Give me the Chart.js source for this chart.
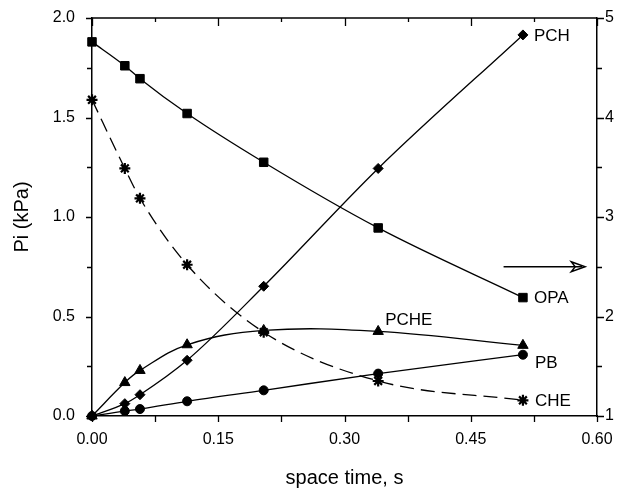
<!DOCTYPE html>
<html>
<head>
<meta charset="utf-8">
<script src="https://cdn.jsdelivr.net/npm/chart.js@4/dist/chart.umd.min.js"></script>
<style>
  html, body { margin: 0; padding: 0; background: #fff; }
  #wrap { width: 624px; height: 493px; }
</style>
</head>
<body>
<div id="wrap"><canvas id="c" width="624" height="493"></canvas></div>
<script>
// Space time (s) at which each composition was measured
const spaceTime = [0, 0.039, 0.057, 0.113, 0.204, 0.340, 0.512];

// Partial pressures, kPa (left axis)
const pch  = [0, 0.062, 0.107, 0.280, 0.652, 1.244, 1.915];
const pche = [0, 0.168, 0.229, 0.358, 0.430, 0.425, 0.355];
const pb   = [0, 0.025, 0.035, 0.074, 0.129, 0.213, 0.308];
const che  = [1.589, 1.244, 1.094, 0.760, 0.421, 0.176, 0.079];

// OPA, read on the right axis
const opa  = [4.76, 4.52, 4.39, 4.04, 3.55, 2.89, 2.19];

// Tick labels
const xTicks = [0, 0.15, 0.30, 0.45, 0.60];
const leftTicks = [0, 0.5, 1.0, 1.5, 2.0];
const rightTicks = [1, 2, 3, 4, 5];

const FONT = '"Liberation Sans", Arial, Helvetica, sans-serif';
const INK = '#000';

function pts(ys) { return spaceTime.map((x, i) => ({ x: x, y: ys[i] })); }

function series(label, ys, style, radius, axis, extra) {
  return Object.assign({
    label: label,
    data: pts(ys),
    yAxisID: axis,
    borderColor: INK,
    backgroundColor: INK,
    borderWidth: 1.3,
    pointStyle: style,
    pointRadius: radius,
    pointHoverRadius: radius,
    pointBackgroundColor: INK,
    pointBorderColor: INK,
    pointBorderWidth: 1,
    cubicInterpolationMode: 'monotone',
    fill: false,
    clip: false
  }, extra || {});
}

// Frame, tick marks, curve labels and the axis-pointer arrow
const decorations = {
  id: 'decorations',
  afterDraw(chart) {
    const ctx = chart.ctx;
    const a = chart.chartArea;
    const xs = chart.scales.x, yl = chart.scales.y, yr = chart.scales.y2;
    ctx.save();
    ctx.strokeStyle = INK;
    ctx.lineWidth = 1.5;
    // top edge of the frame
    ctx.beginPath();
    ctx.moveTo(a.left, a.top);
    ctx.lineTo(a.right, a.top);
    ctx.stroke();

    ctx.lineWidth = 1.3;
    ctx.beginPath();
    // x ticks: outward at bottom, inward at top
    for (let k = 0; k <= 8; k++) {
      const v = k * 0.075;
      const px = Math.round(xs.getPixelForValue(v)) + 0.5;
      ctx.moveTo(px, a.bottom);
      ctx.lineTo(px, a.bottom + 6);
      const len = (k % 2 === 0) ? 8 : 4;
      ctx.moveTo(px, a.top);
      ctx.lineTo(px, a.top + len);
    }
    // left ticks
    for (let k = 0; k <= 8; k++) {
      const v = k * 0.25;
      const py = Math.round(yl.getPixelForValue(v)) + 0.5;
      ctx.moveTo(a.left, py);
      ctx.lineTo(a.left - ((k % 2 === 0) ? 6 : 5), py);
    }
    // right ticks
    for (let k = 0; k <= 8; k++) {
      const v = 1 + k * 0.5;
      const py = Math.round(yr.getPixelForValue(v)) + 0.5;
      ctx.moveTo(a.right, py);
      ctx.lineTo(a.right + ((k % 2 === 0) ? 7 : 5), py);
    }
    ctx.stroke();

    // curve labels next to the marks they name
    ctx.fillStyle = INK;
    ctx.font = '17px ' + FONT;
    ctx.textBaseline = 'middle';
    ctx.textAlign = 'left';
    const last = spaceTime.length - 1;
    const at = (i, idx) => chart.getDatasetMeta(i).data[idx];
    let p;
    p = at(0, last); ctx.fillText('OPA', p.x + 11, p.y + 1);
    p = at(1, last); ctx.fillText('PCH', p.x + 11, p.y + 1);
    p = at(2, 5);    ctx.fillText('PCHE', p.x + 7, p.y - 11);
    p = at(3, last); ctx.fillText('PB', p.x + 12, p.y + 9);
    p = at(4, last); ctx.fillText('CHE', p.x + 12, p.y + 1);

    // arrow pointing OPA to the right-hand axis
    const ay = yr.getPixelForValue(2.5);
    const x0 = xs.getPixelForValue(0.489), x1 = xs.getPixelForValue(0.586);
    ctx.lineWidth = 1.4;
    ctx.beginPath();
    ctx.moveTo(x0, ay);
    ctx.lineTo(x1 - 3, ay);
    ctx.stroke();
    ctx.beginPath();
    ctx.moveTo(x1 - 14, ay - 5);
    ctx.lineTo(x1, ay);
    ctx.lineTo(x1 - 14, ay + 5);
    ctx.lineTo(x1 - 10, ay);
    ctx.closePath();
    ctx.stroke();
    ctx.restore();
  }
};

const fixedTicks = (list) => (scale) => {
  scale.ticks = list.map(v => ({ value: v }));
};

// keep the plot box fixed: no extra room reserved for label overhang
const fitV = (w) => (s) => { s.width = w; s.paddingTop = 0; s.paddingBottom = 0; };
const fitH = (h) => (s) => { s.height = h; s.paddingLeft = 0; s.paddingRight = 0; };

new Chart(document.getElementById('c'), {
  type: 'line',
  data: {
    datasets: [
      series('OPA', opa, 'rect', 6, 'y2'),
      series('PCH', pch, 'rectRot', 5, 'y'),
      series('PCHE', pche, 'triangle', 6, 'y', { cubicInterpolationMode: 'default', tension: 0.38 }),
      series('PB', pb, 'circle', 4.5, 'y'),
      series('CHE', che, 'star', 5.5, 'y', { borderDash: [14, 7], pointBorderWidth: 2.2 })
    ]
  },
  options: {
    responsive: false,
    animation: false,
    devicePixelRatio: 1,
    layout: { padding: { top: 18, left: 0, right: 0, bottom: 0 } },
    plugins: {
      legend: { display: false },
      tooltip: { enabled: false },
      title: { display: false }
    },
    scales: {
      x: {
        type: 'linear',
        position: 'bottom',
        min: 0, max: 0.6,
        afterBuildTicks: fixedTicks(xTicks),
        afterFit: fitH(77),
        grid: { display: true, drawOnChartArea: false, drawTicks: false },
        border: { display: true, color: INK, width: 1.5 },
        ticks: {
          color: INK, padding: 14, maxRotation: 0, autoSkip: false,
          font: { family: FONT, size: 16 },
          callback: (v) => Number(v).toFixed(2)
        },
        title: {
          display: true, text: 'space time, s', color: INK,
          font: { family: FONT, size: 20 },
          padding: { top: 0, bottom: 3 }
        }
      },
      y: {
        type: 'linear',
        position: 'left',
        min: 0, max: 2,
        afterBuildTicks: fixedTicks(leftTicks),
        afterFit: fitV(92),
        grid: { display: true, drawOnChartArea: false, drawTicks: false },
        border: { display: true, color: INK, width: 1.5 },
        ticks: {
          color: INK, padding: 17, autoSkip: false,
          font: { family: FONT, size: 16 },
          callback: (v) => Number(v).toFixed(1)
        },
        title: {
          display: true, text: 'Pi (kPa)', color: INK,
          font: { family: FONT, size: 20 },
          padding: { top: 10, bottom: 0 }
        }
      },
      y2: {
        type: 'linear',
        position: 'right',
        min: 1, max: 5,
        afterBuildTicks: fixedTicks(rightTicks),
        afterFit: fitV(27),
        grid: { display: true, drawOnChartArea: false, drawTicks: false },
        border: { display: true, color: INK, width: 1.5 },
        ticks: {
          color: INK, padding: 8, autoSkip: false,
          font: { family: FONT, size: 16 },
          callback: (v) => String(v)
        }
      }
    }
  },
  plugins: [decorations]
});
</script>
</body>
</html>
